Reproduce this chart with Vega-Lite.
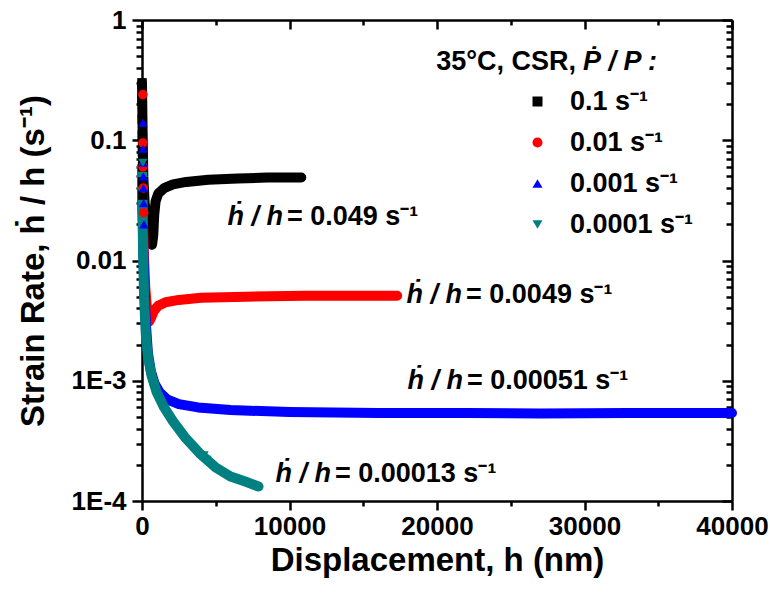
{
  "$schema": "https://vega.github.io/schema/vega-lite/v6.json",
  "width": 590,
  "height": 481,
  "autosize": {"type": "none"},
  "padding": {"left": 142, "top": 20, "right": 38, "bottom": 100},
  "background": "white",
  "config": {
    "font": "Liberation Sans",
    "view": {"stroke": null},
    "axis": {
      "grid": false,
      "domainColor": "black",
      "domainWidth": 2.5,
      "tickColor": "black",
      "tickWidth": 2.5,
      "labelColor": "black",
      "titleColor": "black",
      "labelFont": "Liberation Sans",
      "labelFontWeight": "bold",
      "labelFontSize": 26,
      "titleFont": "Liberation Sans",
      "titleFontWeight": "bold",
      "titleFontSize": 33,
      "labelOverlap": false,
      "labelFlush": false
    }
  },
  "datasets": {
    "curves": [
      {"series": "0.1 s⁻¹", "h": 0, "rate": 0.30},
      {"series": "0.1 s⁻¹", "h": 40, "rate": 0.12},
      {"series": "0.1 s⁻¹", "h": 90, "rate": 0.05},
      {"series": "0.1 s⁻¹", "h": 180, "rate": 0.03},
      {"series": "0.1 s⁻¹", "h": 350, "rate": 0.02},
      {"series": "0.1 s⁻¹", "h": 550, "rate": 0.015},
      {"series": "0.1 s⁻¹", "h": 680, "rate": 0.0135},
      {"series": "0.1 s⁻¹", "h": 760, "rate": 0.016},
      {"series": "0.1 s⁻¹", "h": 830, "rate": 0.024},
      {"series": "0.1 s⁻¹", "h": 920, "rate": 0.031},
      {"series": "0.1 s⁻¹", "h": 1100, "rate": 0.036},
      {"series": "0.1 s⁻¹", "h": 1500, "rate": 0.040},
      {"series": "0.1 s⁻¹", "h": 2100, "rate": 0.043},
      {"series": "0.1 s⁻¹", "h": 3000, "rate": 0.045},
      {"series": "0.1 s⁻¹", "h": 4500, "rate": 0.047},
      {"series": "0.1 s⁻¹", "h": 6500, "rate": 0.048},
      {"series": "0.1 s⁻¹", "h": 8500, "rate": 0.049},
      {"series": "0.1 s⁻¹", "h": 10800, "rate": 0.049},

      {"series": "0.01 s⁻¹", "h": 0, "rate": 0.06},
      {"series": "0.01 s⁻¹", "h": 50, "rate": 0.025},
      {"series": "0.01 s⁻¹", "h": 120, "rate": 0.012},
      {"series": "0.01 s⁻¹", "h": 220, "rate": 0.006},
      {"series": "0.01 s⁻¹", "h": 350, "rate": 0.0038},
      {"series": "0.01 s⁻¹", "h": 480, "rate": 0.0031},
      {"series": "0.01 s⁻¹", "h": 600, "rate": 0.0033},
      {"series": "0.01 s⁻¹", "h": 800, "rate": 0.0038},
      {"series": "0.01 s⁻¹", "h": 1100, "rate": 0.0042},
      {"series": "0.01 s⁻¹", "h": 1600, "rate": 0.0045},
      {"series": "0.01 s⁻¹", "h": 2500, "rate": 0.0047},
      {"series": "0.01 s⁻¹", "h": 4000, "rate": 0.0049},
      {"series": "0.01 s⁻¹", "h": 7000, "rate": 0.0050},
      {"series": "0.01 s⁻¹", "h": 11000, "rate": 0.0051},
      {"series": "0.01 s⁻¹", "h": 17300, "rate": 0.0051},

      {"series": "0.001 s⁻¹", "h": 0, "rate": 0.05},
      {"series": "0.001 s⁻¹", "h": 40, "rate": 0.025},
      {"series": "0.001 s⁻¹", "h": 90, "rate": 0.012},
      {"series": "0.001 s⁻¹", "h": 160, "rate": 0.006},
      {"series": "0.001 s⁻¹", "h": 260, "rate": 0.003},
      {"series": "0.001 s⁻¹", "h": 400, "rate": 0.0017},
      {"series": "0.001 s⁻¹", "h": 600, "rate": 0.0012},
      {"series": "0.001 s⁻¹", "h": 850, "rate": 0.00095},
      {"series": "0.001 s⁻¹", "h": 1200, "rate": 0.0008},
      {"series": "0.001 s⁻¹", "h": 1700, "rate": 0.0007},
      {"series": "0.001 s⁻¹", "h": 2500, "rate": 0.00064},
      {"series": "0.001 s⁻¹", "h": 3800, "rate": 0.0006},
      {"series": "0.001 s⁻¹", "h": 6000, "rate": 0.00057},
      {"series": "0.001 s⁻¹", "h": 10000, "rate": 0.00055},
      {"series": "0.001 s⁻¹", "h": 16000, "rate": 0.00054},
      {"series": "0.001 s⁻¹", "h": 22000, "rate": 0.00054},
      {"series": "0.001 s⁻¹", "h": 27000, "rate": 0.000535},
      {"series": "0.001 s⁻¹", "h": 33000, "rate": 0.00054},
      {"series": "0.001 s⁻¹", "h": 40000, "rate": 0.00054},

      {"series": "0.0001 s⁻¹", "h": 0, "rate": 0.06},
      {"series": "0.0001 s⁻¹", "h": 30, "rate": 0.03},
      {"series": "0.0001 s⁻¹", "h": 70, "rate": 0.012},
      {"series": "0.0001 s⁻¹", "h": 140, "rate": 0.005},
      {"series": "0.0001 s⁻¹", "h": 250, "rate": 0.0025},
      {"series": "0.0001 s⁻¹", "h": 400, "rate": 0.0016},
      {"series": "0.0001 s⁻¹", "h": 650, "rate": 0.0011},
      {"series": "0.0001 s⁻¹", "h": 1000, "rate": 0.0008},
      {"series": "0.0001 s⁻¹", "h": 1500, "rate": 0.0006},
      {"series": "0.0001 s⁻¹", "h": 2100, "rate": 0.00046},
      {"series": "0.0001 s⁻¹", "h": 2900, "rate": 0.00034},
      {"series": "0.0001 s⁻¹", "h": 3900, "rate": 0.00025},
      {"series": "0.0001 s⁻¹", "h": 5000, "rate": 0.00019},
      {"series": "0.0001 s⁻¹", "h": 6000, "rate": 0.00016},
      {"series": "0.0001 s⁻¹", "h": 7000, "rate": 0.000145},
      {"series": "0.0001 s⁻¹", "h": 7900, "rate": 0.000132}
    ],
    "markers": [
      {"series": "0.1 s⁻¹", "h": 0, "rate": 0.30},
      {"series": "0.1 s⁻¹", "h": 0, "rate": 0.22},
      {"series": "0.1 s⁻¹", "h": 20, "rate": 0.15},
      {"series": "0.1 s⁻¹", "h": 20, "rate": 0.11},
      {"series": "0.1 s⁻¹", "h": 30, "rate": 0.08},
      {"series": "0.1 s⁻¹", "h": 40, "rate": 0.06},
      {"series": "0.1 s⁻¹", "h": 50, "rate": 0.045},
      {"series": "0.1 s⁻¹", "h": 60, "rate": 0.035},
      {"series": "0.01 s⁻¹", "h": 60, "rate": 0.24},
      {"series": "0.01 s⁻¹", "h": 60, "rate": 0.095},
      {"series": "0.01 s⁻¹", "h": 70, "rate": 0.06},
      {"series": "0.01 s⁻¹", "h": 90, "rate": 0.04},
      {"series": "0.01 s⁻¹", "h": 110, "rate": 0.025},
      {"series": "0.001 s⁻¹", "h": 70, "rate": 0.14},
      {"series": "0.001 s⁻¹", "h": 70, "rate": 0.085},
      {"series": "0.001 s⁻¹", "h": 80, "rate": 0.065},
      {"series": "0.001 s⁻¹", "h": 90, "rate": 0.05},
      {"series": "0.001 s⁻¹", "h": 100, "rate": 0.04},
      {"series": "0.001 s⁻¹", "h": 110, "rate": 0.03},
      {"series": "0.001 s⁻¹", "h": 130, "rate": 0.02},
      {"series": "0.0001 s⁻¹", "h": 60, "rate": 0.065},
      {"series": "0.0001 s⁻¹", "h": 4200, "rate": 0.00024},
      {"series": "0.0001 s⁻¹", "h": 4400, "rate": 0.00022}
    ],
    "notes": [
      {"h": 9830, "rate": 0.023, "val": "= 0.049 s⁻¹"},
      {"h": 21970, "rate": 0.0052, "val": "= 0.0049 s⁻¹"},
      {"h": 22030, "rate": 0.001, "val": "= 0.00051 s⁻¹"},
      {"h": 13085, "rate": 0.000168, "val": "= 0.00013 s⁻¹"}
    ],
    "header": [
      {"h": 29700, "rate": 0.448}
    ]
  },
  "layer": [
    {
      "data": {"name": "curves"},
      "mark": {"type": "line", "strokeWidth": 10, "strokeCap": "round", "strokeJoin": "round"},
      "encoding": {
        "x": {
          "field": "h", "type": "quantitative",
          "scale": {"domain": [0, 40000], "nice": false, "zero": false},
          "axis": {
            "orient": "bottom",
            "title": "Displacement, h (nm)",
            "titlePadding": 5,
            "values": [0, 5000, 10000, 15000, 20000, 25000, 30000, 35000, 40000],
            "labelExpr": "datum.value % 10000 === 0 ? format(datum.value, 'd') : ''",
            "tickSize": {"condition": {"test": "datum.value % 10000 === 0", "value": 9}, "value": 5},
            "labelPadding": 3
          }
        },
        "y": {
          "field": "rate", "type": "quantitative",
          "scale": {"type": "log", "domain": [0.0001, 1], "nice": false},
          "axis": {
            "orient": "left",
            "title": "Strain Rate,  ḣ / h  (s⁻¹)",
            "titlePadding": 21,
            "values": [0.0001, 0.0002, 0.0003, 0.0004, 0.0005, 0.0006, 0.0007, 0.0008, 0.0009,
                       0.001, 0.002, 0.003, 0.004, 0.005, 0.006, 0.007, 0.008, 0.009,
                       0.01, 0.02, 0.03, 0.04, 0.05, 0.06, 0.07, 0.08, 0.09,
                       0.1, 0.2, 0.3, 0.4, 0.5, 0.6, 0.7, 0.8, 0.9, 1],
            "labelExpr": "abs(log(datum.value) / LN10 - round(log(datum.value) / LN10)) > 0.000001 ? '' : (datum.value > 0.5 ? '1' : datum.value > 0.05 ? '0.1' : datum.value > 0.005 ? '0.01' : datum.value > 0.0005 ? '1E-3' : '1E-4')",
            "tickSize": {"condition": {"test": "abs(log(datum.value) / LN10 - round(log(datum.value) / LN10)) < 0.000001", "value": 10}, "value": 6},
            "labelPadding": 6
          }
        },
        "color": {
          "field": "series", "type": "nominal",
          "scale": {"domain": ["0.1 s⁻¹", "0.01 s⁻¹", "0.001 s⁻¹", "0.0001 s⁻¹"], "range": ["#000000", "#ff0000", "#0000ff", "#008080"]},
          "legend": null
        }
      }
    },
    {
      "data": {"name": "markers"},
      "mark": {"type": "point", "filled": true, "size": 90, "opacity": 1},
      "encoding": {
        "x": {
          "field": "h", "type": "quantitative",
          "axis": {
            "orient": "top",
            "title": null,
            "labels": false,
            "values": [0, 5000, 10000, 15000, 20000, 25000, 30000, 35000, 40000],
            "tickSize": {"condition": {"test": "datum.value % 10000 === 0", "value": -9}, "value": -5}
          }
        },
        "y": {
          "field": "rate", "type": "quantitative",
          "axis": {
            "orient": "right",
            "title": null,
            "labels": false,
            "values": [0.0001, 0.0002, 0.0003, 0.0004, 0.0005, 0.0006, 0.0007, 0.0008, 0.0009,
                       0.001, 0.002, 0.003, 0.004, 0.005, 0.006, 0.007, 0.008, 0.009,
                       0.01, 0.02, 0.03, 0.04, 0.05, 0.06, 0.07, 0.08, 0.09,
                       0.1, 0.2, 0.3, 0.4, 0.5, 0.6, 0.7, 0.8, 0.9, 1],
            "tickSize": {"condition": {"test": "abs(log(datum.value) / LN10 - round(log(datum.value) / LN10)) < 0.000001", "value": -10}, "value": -6}
          }
        },
        "color": {
          "field": "series", "type": "nominal",
          "legend": {
            "orient": "none", "legendX": 382, "legendY": 68,
            "title": null, "padding": 0,
            "labelFont": "Liberation Sans", "labelFontWeight": "bold", "labelFontSize": 27,
            "labelColor": "black", "labelOffset": 19, "rowPadding": 13,
            "symbolSize": 100, "symbolStrokeWidth": 0, "symbolOpacity": 1
          }
        },
        "shape": {
          "field": "series", "type": "nominal",
          "scale": {"domain": ["0.1 s⁻¹", "0.01 s⁻¹", "0.001 s⁻¹", "0.0001 s⁻¹"], "range": ["square", "circle", "triangle-up", "triangle-down"]},
          "legend": {
            "orient": "none", "legendX": 382, "legendY": 68,
            "title": null, "padding": 0,
            "labelFont": "Liberation Sans", "labelFontWeight": "bold", "labelFontSize": 27,
            "labelColor": "black", "labelOffset": 19, "rowPadding": 13,
            "symbolSize": 100, "symbolStrokeWidth": 0, "symbolOpacity": 1
          }
        }
      }
    },
    {
      "data": {"name": "notes"},
      "mark": {"type": "text", "text": "ḣ / h", "align": "right", "baseline": "middle", "dx": -4, "font": "Liberation Sans", "fontSize": 27, "fontWeight": "bold", "fontStyle": "italic", "color": "black"},
      "encoding": {
        "x": {"field": "h", "type": "quantitative", "axis": null},
        "y": {"field": "rate", "type": "quantitative", "axis": null}
      }
    },
    {
      "data": {"name": "notes"},
      "mark": {"type": "text", "align": "left", "baseline": "middle", "font": "Liberation Sans", "fontSize": 27, "fontWeight": "bold", "color": "black"},
      "encoding": {
        "x": {"field": "h", "type": "quantitative", "axis": null},
        "y": {"field": "rate", "type": "quantitative", "axis": null},
        "text": {"field": "val", "type": "nominal"}
      }
    },
    {
      "data": {"name": "header"},
      "mark": {"type": "text", "text": "35°C, CSR,", "align": "right", "baseline": "middle", "dx": -4, "font": "Liberation Sans", "fontSize": 27, "fontWeight": "bold", "color": "black"},
      "encoding": {
        "x": {"field": "h", "type": "quantitative", "axis": null},
        "y": {"field": "rate", "type": "quantitative", "axis": null}
      }
    },
    {
      "data": {"name": "header"},
      "mark": {"type": "text", "text": "Ṗ / P :", "align": "left", "baseline": "middle", "dx": 3, "font": "Liberation Sans", "fontSize": 27, "fontWeight": "bold", "fontStyle": "italic", "color": "black"},
      "encoding": {
        "x": {"field": "h", "type": "quantitative", "axis": null},
        "y": {"field": "rate", "type": "quantitative", "axis": null}
      }
    }
  ],
  "resolve": {
    "axis": {"x": "independent", "y": "independent"},
    "legend": {"color": "independent", "shape": "independent"}
  }
}
